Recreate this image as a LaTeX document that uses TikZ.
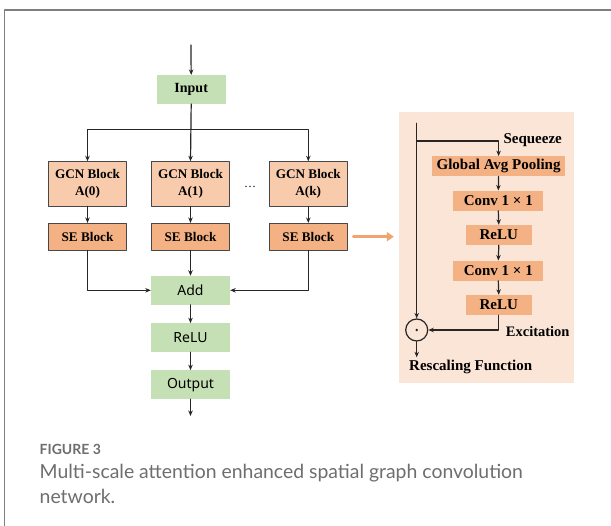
\documentclass[tikz,border=0pt]{standalone}
\usepackage{fontspec}
\setmainfont{Liberation Serif}
\newfontfamily\flowsans{Noto Sans}
\newfontfamily\captionfont{Lato}
\usetikzlibrary{arrows.meta}

\begin{document}
\begin{tikzpicture}[
    x=1pt,
    y=-1pt,
    line cap=round,
    line join=round,
    every node/.style={font=\fontsize{15}{17.5}\selectfont\bfseries},
]
\definecolor{msGreen}{HTML}{C5E0B4}
\definecolor{msPeach}{HTML}{F8CBAD}
\definecolor{msOrange}{HTML}{F4B183}
\definecolor{msPanel}{HTML}{FBE5D6}
\definecolor{msArrow}{HTML}{F2A46F}
\definecolor{msLine}{HTML}{262626}
\definecolor{msFrame}{HTML}{7F7F7F}
\definecolor{msCaption}{HTML}{6E6E6E}

\tikzset{
    link/.style={draw=msLine,line width=1.2pt},
    arrow/.style={link,-{Stealth[length=5.5pt,width=4.5pt]}},
    greenbox/.style={fill=msGreen,minimum height=28.7pt,inner sep=0pt},
    flowtext/.style={font=\flowsans\fontsize{14}{16}\selectfont},
    blocktext/.style={font=\fontsize{13.2}{17}\selectfont\bfseries},
    gcnbox/.style={blocktext,draw=msLine!85,line width=0.8pt,fill=msPeach,minimum width=78.4pt,minimum height=44.3pt,inner sep=0pt,align=center},
    sebox/.style={blocktext,draw=msLine!85,line width=0.8pt,fill=msOrange,minimum width=78.4pt,minimum height=26.7pt,inner sep=0pt},
    panel/.style={fill=msPanel,minimum width=175.3pt,minimum height=271pt,inner sep=0pt},
    sebody/.style={fill=msOrange,minimum height=20pt,inner sep=0pt},
    bigarrow/.style={draw=msArrow,line width=3.2pt,-{Triangle[length=7pt,width=9pt]}},
}

\useasboundingbox (0,0) rectangle (611,526);
\fill[white] (0,0) rectangle (611,526);
\draw[draw=msFrame,line width=1.3pt] (4.3,526) -- (4.3,10) -- (611,10);

% multi-scale branches
\coordinate (in) at (190.9,45);
\node[greenbox,font=\fontsize{14}{17}\selectfont\bfseries,minimum width=69pt] (input) at (191.2,89.5) {Input};
\coordinate (split) at (190.9,129.3);

\node[gcnbox] (gcn0) at (87.5,183.8) {GCN Block\\A(0)};
\node[gcnbox] (gcn1) at (190.5,183.8) {GCN Block\\A(1)};
\node[gcnbox] (gcnk) at (308.3,183.8) {GCN Block\\A(k)};
\node[font=\fontsize{12}{13}\selectfont] (dots) at (250,186.5) {\ldots};

\node[sebox] (se0) at (87.5,236.7) {SE Block};
\node[sebox] (se1) at (190.5,236.7) {SE Block};
\node[sebox] (sek) at (308.3,236.7) {SE Block};

\node[greenbox,flowtext,minimum width=79pt] (add) at (190.5,290.3) {Add};
\node[greenbox,flowtext,minimum width=79pt] (relu) at (190.5,337.7) {ReLU};
\node[greenbox,flowtext,minimum width=79pt] (output) at (190.5,384.7) {Output};
\coordinate (out) at (190.5,416);

\draw[arrow] (in) -- (input.north);
\draw[link] (input.south) -- (split);
\draw[arrow] (split) -| (gcn0.north);
\draw[arrow] (split) -- (gcn1.north);
\draw[arrow] (split) -| (gcnk.north);
\foreach \i in {0,1,k} {
    \draw[arrow] (gcn\i.south) -- (se\i.north);
}
\draw[arrow] (se0.south) |- (add.west);
\draw[arrow] (se1.south) -- (add.north);
\draw[arrow] (sek.south) |- (add.east);
\draw[arrow] (add.south) -- (relu.north);
\draw[arrow] (relu.south) -- (output.north);
\draw[arrow] (output.south) -- (out);

% squeeze and excitation
\node[panel] (panel) at (486.7,247.8) {};
\node[sebody,minimum width=132.7pt] (gap) at (498.6,166.3) {Global Avg Pooling};
\node[sebody,minimum width=90pt] (conv1) at (498.3,200.7) {Conv 1 × 1};
\node[sebody,minimum width=65.7pt] (relu1) at (498.8,235) {ReLU};
\node[sebody,minimum width=90pt] (conv2) at (498.3,270.7) {Conv 1 × 1};
\node[sebody,minimum width=65.7pt] (relu2) at (498.8,305) {ReLU};
\node[link,circle,minimum size=22pt,inner sep=0pt] (odot) at (416.7,330) {};
\fill[msLine] (odot.center) circle (1.3pt);

\coordinate (sqtop) at (416.7,123.3);
\coordinate (sqsplit) at (416.7,141);
\coordinate (rescaled) at (416.7,357.3);

\draw[link] (sqtop) -- (sqsplit);
\draw[arrow] (sqsplit) -- (odot.north);
\draw[arrow] (sqsplit) -| (gap.north);
\draw[arrow] (gap.south) -- (conv1.north);
\draw[arrow] (conv1.south) -- (relu1.north);
\draw[arrow] (relu1.south) -- (conv2.north);
\draw[arrow] (conv2.south) -- (relu2.north);
\draw[arrow] (relu2.south) |- (odot.east);
\draw[arrow] (odot.south) -- (rescaled);

\node[anchor=west,inner sep=0pt] (squeeze) at (503.3,140) {Sequeeze};
\node[anchor=west,inner sep=0pt,font=\fontsize{14.5}{17}\selectfont\bfseries] (excite) at (505.7,331.7) {Excitation};
\node[anchor=west,inner sep=0pt] (rescale) at (409,366.7) {Rescaling Function};

\draw[bigarrow] ([xshift=5.5pt]sek.east) -- ([xshift=-5pt]sek.east -| panel.west);

% caption
\node[anchor=base west,inner sep=0pt,text=msCaption,font=\captionfont\bfseries\fontsize{14}{16}\selectfont] (figlabel) at (39.5,455) {FIGURE 3};
\node[anchor=base west,inner sep=0pt,text=msCaption,font=\captionfont\fontsize{19.4}{24}\selectfont] (capline1) at (39.5,479) {Multi-scale attention enhanced spatial graph convolution};
\node[anchor=base west,inner sep=0pt,text=msCaption,font=\captionfont\fontsize{19.4}{24}\selectfont] (capline2) at (39.5,503.5) {network.};
\end{tikzpicture}
\end{document}
